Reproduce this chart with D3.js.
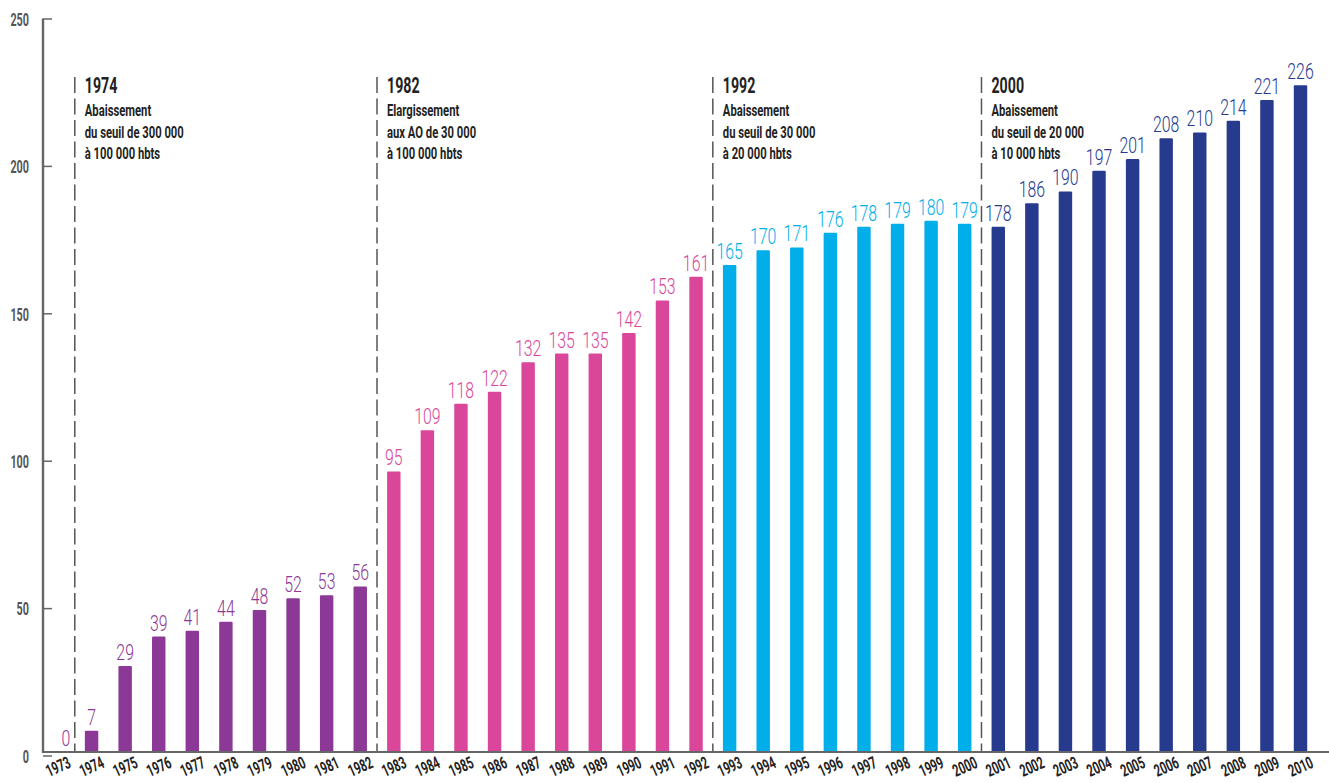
<!DOCTYPE html>
<html lang="fr">
<head>
<meta charset="utf-8">
<title>Nombre d'autorités organisatrices, 1973–2010</title>
<script src="https://cdn.jsdelivr.net/npm/d3@7/dist/d3.min.js"></script>
<style>
  html, body { margin: 0; padding: 0; background: #ffffff; }
  svg { display: block; }
  text { font-family: Roboto, "Noto Sans", sans-serif; }
</style>
</head>
<body>
<svg id="chart" width="1329" height="783"></svg>
<script>
// Years and counts per year
const years = [1973, 1974, 1975, 1976, 1977, 1978, 1979, 1980, 1981, 1982,
               1983, 1984, 1985, 1986, 1987, 1988, 1989, 1990, 1991, 1992,
               1993, 1994, 1995, 1996, 1997, 1998, 1999, 2000,
               2001, 2002, 2003, 2004, 2005, 2006, 2007, 2008, 2009, 2010];
const counts = [0, 7, 29, 39, 41, 44, 48, 52, 53, 56,
                95, 109, 118, 122, 132, 135, 135, 142, 153, 161,
                165, 170, 171, 176, 178, 179, 180, 179,
                178, 186, 190, 197, 201, 208, 210, 214, 221, 226];

// Y axis tick values
const yTicks = [0, 50, 100, 150, 200, 250];

// Periods: first year of each period, its colour and its annotation
const periodStart = [1973, 1983, 1993, 2001];
const periodColor = ["#8b3896", "#d9469a", "#00aee9", "#263a8e"];
const noteStart = [1974, 1983, 1993, 2001];
const noteTitle = ["1974", "1982", "1992", "2000"];
const noteLines = [
  ["Abaissement", "du seuil de 300 000", "à 100 000 hbts"],
  ["Elargissement", "aux AO de 30 000", "à 100 000 hbts"],
  ["Abaissement", "du seuil de 30 000", "à 20 000 hbts"],
  ["Abaissement", "du seuil de 20 000", "à 10 000 hbts"]
];

const data = years.map((y, i) => ({ year: y, value: counts[i] }));
const colorOf = yr => {
  let c = periodColor[0];
  periodStart.forEach((s, i) => { if (yr >= s) c = periodColor[i]; });
  return c;
};

const svg = d3.select("#chart");

const axisX = 43;
const baseY = 752;

const x = d3.scaleBand()
  .domain(years)
  .range([41.2, 1317.3])
  .paddingInner(0.6)
  .paddingOuter(0.3);
const step = x.step();
const cx = yr => x(yr) + x.bandwidth() / 2;

const y = d3.scaleLinear().domain([0, 250]).range([751.5, 14.5]);

// condensed text helper: horizontal squeeze around the anchor point
function ctext(g, tx, ty, str, opts) {
  return g.append("text")
    .attr("transform", `translate(${tx},${ty}) scale(${opts.sx},1)`)
    .attr("text-anchor", opts.anchor || "start")
    .attr("font-size", opts.size)
    .attr("font-weight", opts.weight)
    .attr("fill", opts.fill)
    .text(str);
}

// Annotation dashed separators and texts
const notes = svg.append("g");
noteStart.forEach((yr, i) => {
  const lx = cx(yr) - step / 2;
  notes.append("line")
    .attr("x1", lx).attr("x2", lx)
    .attr("y1", 77).attr("y2", baseY)
    .attr("stroke", "#555")
    .attr("stroke-width", 1.5)
    .attr("stroke-dasharray", "16,5.5");
  ctext(notes, lx + 10, 93, noteTitle[i],
        { sx: 0.66, size: 21.5, weight: 700, fill: "#222" });
  noteLines[i].forEach((t, j) => {
    ctext(notes, lx + 10, 116 + j * 21.5, t,
          { sx: 0.67, size: 16.8, weight: 700, fill: "#222" });
  });
});

// Bars
svg.append("g").selectAll("rect")
  .data(data.filter(d => d.value > 0))
  .join("rect")
  .attr("x", d => x(d.year))
  .attr("width", x.bandwidth())
  .attr("y", d => y(d.value))
  .attr("height", d => baseY - y(d.value))
  .attr("rx", 1.2)
  .attr("fill", d => colorOf(d.year));

// Value labels (the empty first year sits a little right of its slot)
const vl = svg.append("g");
data.forEach(d => {
  const dx = d.value === 0 ? 8 : 0;
  ctext(vl, cx(d.year) + dx, y(d.value) - 6, String(d.value),
        { sx: 0.72, size: 22, weight: 300, fill: colorOf(d.year), anchor: "middle" });
});

// Y axis
const yAxis = d3.axisLeft(y)
  .tickValues(yTicks)
  .tickSize(-9)
  .tickPadding(14)
  .tickFormat(d3.format("d"));
const ya = svg.append("g")
  .attr("transform", `translate(${axisX},4)`)
  .call(yAxis);
ya.select(".domain").remove();
ya.selectAll(".tick line").attr("stroke", "#666").attr("stroke-width", 1.5);
ya.selectAll(".tick text")
  .attr("fill", "#555")
  .attr("font-size", 18)
  .attr("font-weight", 700)
  .attr("font-family", "Roboto, sans-serif")
  .attr("dy", "0.38em")
  .attr("transform", function () {
    const tx = +d3.select(this).attr("x");
    d3.select(this).attr("x", 0);
    return `translate(${tx},0) scale(0.6,1)`;
  });

svg.append("line")
  .attr("x1", axisX).attr("x2", axisX)
  .attr("y1", y(250) + 4).attr("y2", baseY + 1)
  .attr("stroke", "#666").attr("stroke-width", 2.4);

// X baseline
svg.append("line")
  .attr("x1", axisX - 1).attr("x2", 1329)
  .attr("y1", baseY).attr("y2", baseY)
  .attr("stroke", "#666").attr("stroke-width", 2);

// X tick labels, tilted
const xl = svg.append("g");
years.forEach(yr => {
  xl.append("text")
    .attr("transform", `translate(${cx(yr) + 2.5},772) rotate(-24) scale(0.64,1)`)
    .attr("text-anchor", "middle")
    .attr("font-size", 17)
    .attr("font-weight", 700)
    .attr("fill", "#222")
    .text(yr);
});
</script>
</body>
</html>
